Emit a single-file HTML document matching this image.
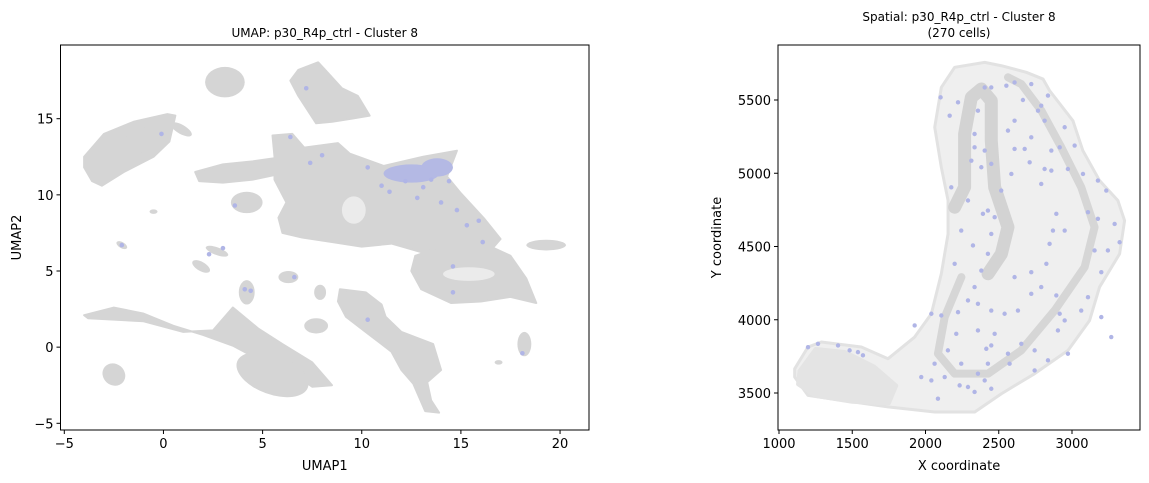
<!DOCTYPE html>
<html><head><meta charset="utf-8"><style>
body{margin:0;background:#fff;}
svg{display:block;font-family:"DejaVu Sans","Liberation Sans",sans-serif;}
</style></head><body>
<svg id="fig" width="1149" height="483" viewBox="0 0 1149 483" xmlns="http://www.w3.org/2000/svg">
<g id="umap"></g>
<g id="spatial"></g>
</svg>
<script>
// ---- UMAP data ----
const umapPolys = [
 [[5.5,13.9],[6.5,14.0],[7.1,13.1],[8.8,13.4],[9.4,12.7],[11.1,11.9],[13.1,12.5],[14.8,12.9],[14.3,11.2],[15.0,10.1],[16.2,8.4],[17.0,7.1],[16.4,6.2],[15.0,6.4],[13.1,6.2],[11.5,6.8],[10.0,6.6],[8.5,6.9],[7.0,7.2],[6.0,7.5],[5.8,8.5],[6.2,9.5],[5.6,11],[5.6,12.5]],
 [[12.7,6.0],[14.5,6.8],[16.5,6.6],[17.5,6.0],[18.3,4.5],[18.8,2.9],[17.5,3.3],[16.0,3.0],[14.5,2.9],[13.0,3.8],[12.5,5.0]],
 [[-4,12.5],[-3,14.0],[-1.5,14.8],[0.2,15.3],[0.6,15.2],[0.3,13.5],[-0.5,12.5],[-2.0,11.5],[-3.1,10.6],[-3.6,10.9],[-4.0,11.8]],
 [[6.8,18.2],[7.8,18.7],[8.3,18.0],[9.0,17.0],[9.8,16.5],[10.4,15.2],[9.5,15.0],[8.5,14.8],[7.7,14.7],[7.3,15.5],[6.8,16.5],[6.4,17.5]],
 [[-4,2.1],[-2.5,2.6],[-1,2.2],[0.5,1.4],[2,0.8],[3.5,0.1],[4.5,-0.6],[6,-1.2],[7.5,-2.6],[8.5,-2.5],[7.5,-1.0],[6.0,0.2],[4.8,1.2],[3.5,2.6],[2.5,1.1],[1,1.0],[-1,1.7],[-3.8,1.9]],
 [[8.9,3.8],[10.2,3.6],[11.0,2.8],[11.2,2.0],[12.0,1.0],[13.6,0.2],[14.0,-1.5],[13.3,-2.3],[13.5,-3.5],[13.9,-4.3],[13.2,-4.2],[12.6,-2.4],[12.0,-1.5],[11.5,-0.3],[10.2,1.0],[9.2,2.0],[8.8,3.0]],
 [[1.6,11.5],[3.0,12.0],[4.5,12.2],[5.6,12.4],[5.6,11.3],[4.5,11.0],[3.0,10.8],[1.8,10.9]]
];
const umapBlobX  = [3.1,4.2,19.3,-0.5,-2.1,2.7,1.9,6.3,4.2,7.9,5.5,-2.5,7.7,18.2,16.9,-1.0,0.9];
const umapBlobY  = [17.4,9.5,6.7,8.9,6.7,6.3,5.3,4.6,3.6,3.6,-1.8,-1.8,1.4,0.2,-1.0,13.6,14.3];
const umapBlobRX = [1.0,0.8,1.0,0.2,0.3,0.6,0.5,0.5,0.4,0.3,1.9,0.6,0.6,0.35,0.2,0.9,0.6];
const umapBlobRY = [1.0,0.7,0.35,0.15,0.2,0.25,0.3,0.4,0.8,0.5,1.3,0.7,0.5,0.8,0.15,0.8,0.3];
const umapBlobRot= [0,0,0,0,30,20,30,0,0,0,20,40,0,0,0,0,30];
const umapHoleX = [15.4,9.6];
const umapHoleY = [4.8,9.0];
const umapHoleRX = [1.3,0.6];
const umapHoleRY = [0.45,0.9];
const umapHiX = [12.5,13.8];
const umapHiY = [11.4,11.8];
const umapHiRX = [1.4,0.8];
const umapHiRY = [0.6,0.6];
const umapPtX = [7.2,-0.1,6.4,8.0,7.4,10.3,3.6,-2.1,2.3,3.0,6.6,4.1,4.4,14.6,14.6,14.0,14.8,15.3,15.9,16.1,12.8,11.4,14.4,10.3,18.1,13.1,11.0,12.2,13.5];
const umapPtY = [17.0,14.0,13.8,12.6,12.1,11.8,9.3,6.7,6.1,6.5,4.6,3.8,3.7,5.3,3.6,9.5,9.0,8.0,8.3,6.9,9.8,10.2,10.9,1.8,-0.4,10.5,10.6,10.9,11.0];
const umapXTicks = [-5,0,5,10,15,20];
const umapYTicks = [-5,0,5,10,15];

// ---- Spatial data ----
const tissueX = [1107,1198,1289,1562,1744,1926,2040,2108,2154,2154,2108,2063,2108,2199,2404,2518,2688,2802,2847,3006,3074,3188,3313,3359,3325,3188,3120,2973,2745,2518,2336,2063,1744,1426,1198,1107];
const tissueY = [3665,3814,3848,3814,3734,3882,4041,4314,4586,4814,5041,5314,5586,5723,5757,5734,5689,5643,5564,5359,5155,4950,4814,4677,4450,4223,3995,3791,3632,3495,3370,3370,3405,3450,3484,3609];
const ridgeAX = [2199,2267,2267,2313,2381,2449,2449,2472,2563,2518,2427];
const ridgeAY = [4768,4905,5268,5518,5575,5495,5223,4905,4632,4450,4314];
const ridgeBX = [2245,2131,2085,2199,2427,2654,2882,3086,3154,3063,2927,2791,2654,2563];
const ridgeBY = [4291,4018,3768,3632,3632,3791,4064,4359,4632,4905,5177,5427,5609,5655];
const tailX = [1140,1250,1450,1650,1800,1750,1500,1250,1130];
const tailY = [3650,3800,3780,3680,3550,3430,3440,3480,3560];
const spZ = [[718,290],[745,345],[770,305],[830,330],[820,400],[850,260],[870,260],[915,255],[940,245],[990,250],[965,298],[1010,330],[1020,315],[1040,285],[1030,360],[1090,380],[1120,435],[1075,440],[940,360],[940,445],[970,445],[985,485],[1030,505],[1050,510],[1100,505],[1145,520],[1020,550],[1190,540],[1215,570],[1160,635],[1190,655],[1240,670],[1255,725],[1220,750],[1180,750],[1065,640],[1090,690],[1055,690],[1035,790],[1045,730],[1020,860],[1065,885],[1075,940],[1090,960],[1140,930],[1160,890],[1200,815],[990,815],[990,880],[940,830],[950,930],[960,1030],[925,1090],[920,1060],[870,1035],[860,1090],[830,1120],[780,1090],[740,1050],[700,1090],[690,1140],[660,1130],[730,1130],[775,1155],[800,1160],[850,1140],[870,1165],[820,1175],[710,1195],[640,975],[690,940],[720,945],[765,1000],[800,900],[830,910],[870,930],[910,940],[770,935],[880,1000],[855,1045],[830,990],[820,860],[760,790],[845,640],[880,650],[870,700],[815,735],[860,760],[840,810],[780,690],[750,560],[810,480],[820,440],[850,450],[840,500],[870,490],[800,600],[860,630],[900,570],[930,520],[920,390],[990,410],[1050,450],[1200,950],[1230,1010],[1100,1060],[1040,1080],[1000,1110],[1000,1050],[1070,990],[320,1040],[350,1030],[410,1035],[445,1050],[470,1055],[485,1065]];
const spPtX = spZ.map(p=>Math.round(1000+(p[0]-233)*2.275));
const spPtY = spZ.map(p=>Math.round(5500-(p[1]-298)*2.273));
const spXTicks = [1000,1500,2000,2500,3000];
const spYTicks = [3500,4000,4500,5000,5500];

const NS="http://www.w3.org/2000/svg";
function mk(tag,attrs,parent,text){const e=document.createElementNS(NS,tag);for(const k in attrs)e.setAttribute(k,attrs[k]);if(text!==undefined)e.textContent=text;parent.appendChild(e);return e;}

// ---- UMAP panel ----
const U=document.getElementById('umap');
const uL=60.5,uR=589,uT=45,uB=430;
const ux=v=>64.3+(v+5)*19.83, uy=v=>118.7-(v-15)*15.23;
umapPolys.forEach(poly=>{
  const e=mk('polygon',{points:poly.map(p=>ux(p[0])+','+uy(p[1])).join(' '),fill:'#d5d5d5',stroke:'#d5d5d5','stroke-width':2,'stroke-linejoin':'round'},U);
  
  
});
for(let i=0;i<umapBlobX.length;i++){
  const cx=ux(umapBlobX[i]),cy=uy(umapBlobY[i]);
  const e=mk('ellipse',{cx:cx,cy:cy,rx:umapBlobRX[i]*19.83,ry:umapBlobRY[i]*15.23,fill:'#d5d5d5',transform:`rotate(${umapBlobRot[i]} ${cx} ${cy})`},U);
  
  
}
for(let i=0;i<umapHoleX.length;i++){
  const e=mk('ellipse',{cx:ux(umapHoleX[i]),cy:uy(umapHoleY[i]),rx:umapHoleRX[i]*19.83,ry:umapHoleRY[i]*15.23,fill:'#ebebeb'},U);
  
  
}
for(let i=0;i<umapHiX.length;i++){
  const e=mk('ellipse',{cx:ux(umapHiX[i]),cy:uy(umapHiY[i]),rx:umapHiRX[i]*19.83,ry:umapHiRY[i]*15.23,fill:'#b4b9e4'},U);
  
  
}
for(let i=0;i<umapPtX.length;i++){
  const e=mk('circle',{cx:ux(umapPtX[i]),cy:uy(umapPtY[i]),r:2.3,fill:'#b0b5e6'},U);
  
  
}
mk('rect',{x:uL,y:uT,width:uR-uL,height:uB-uT,fill:'none',stroke:'#000','stroke-width':1},U);
umapXTicks.forEach(t=>{const x=ux(t);mk('line',{x1:x,x2:x,y1:uB,y2:uB+4,stroke:'#000'},U);
  const e=mk('text',{x:x,y:uB+18,'font-size':13,'text-anchor':'middle'},U,t<0?'\u2212'+(-t):t);
  });
umapYTicks.forEach(t=>{const y=uy(t);mk('line',{x1:uL,x2:uL-4,y1:y,y2:y,stroke:'#000'},U);
  const e=mk('text',{x:uL-7,y:y+5,'font-size':13,'text-anchor':'end'},U,t<0?'\u2212'+(-t):t);
  });
let t1=mk('text',{x:(uL+uR)/2,y:37,'font-size':12,'text-anchor':'middle'},U,'UMAP: p30_R4p_ctrl - Cluster 8');

let t2=mk('text',{x:(uL+uR)/2,y:470,'font-size':13,'text-anchor':'middle'},U,'UMAP1');

let t3=mk('text',{x:21,y:(uT+uB)/2,'font-size':13,'text-anchor':'middle',transform:`rotate(-90 21 ${(uT+uB)/2})`},U,'UMAP2');


// ---- Spatial panel ----
const S=document.getElementById('spatial');
const sL=778,sR=1140,sT=45,sB=430;
const sx=v=>779+(v-1000)*0.1465, sy=v=>100-(v-5500)*0.1465;
const pts=(X,Y)=>X.map((v,i)=>sx(v)+','+sy(Y[i])).join(' ');
let tis=mk('polygon',{points:pts(tissueX,tissueY),fill:'#efefef',stroke:'#e2e2e2','stroke-width':3,'stroke-linejoin':'round'},S);

let tl=mk('polygon',{points:pts(tailX,tailY),fill:'#e4e4e4',stroke:'#e4e4e4','stroke-width':4,'stroke-linejoin':'round'},S);

let ra=mk('polyline',{points:pts(ridgeAX,ridgeAY),fill:'none',stroke:'#d3d3d3','stroke-width':13,'stroke-linejoin':'round','stroke-linecap':'round'},S);

let rb=mk('polyline',{points:pts(ridgeBX,ridgeBY),fill:'none',stroke:'#d6d6d6','stroke-width':8,'stroke-linejoin':'round','stroke-linecap':'round'},S);

for(let i=0;i<spPtX.length;i++){
  const e=mk('circle',{cx:sx(spPtX[i]),cy:sy(spPtY[i]),r:2.2,fill:'#b0b5e6'},S);
  
  
}
mk('rect',{x:sL,y:sT,width:sR-sL,height:sB-sT,fill:'none',stroke:'#000','stroke-width':1},S);
spXTicks.forEach(t=>{const x=sx(t);mk('line',{x1:x,x2:x,y1:sB,y2:sB+4,stroke:'#000'},S);
  const e=mk('text',{x:x,y:sB+18,'font-size':13,'text-anchor':'middle'},S,t);
  });
spYTicks.forEach(t=>{const y=sy(t);mk('line',{x1:sL,x2:sL-4,y1:y,y2:y,stroke:'#000'},S);
  const e=mk('text',{x:sL-7,y:y+5,'font-size':13,'text-anchor':'end'},S,t);
  });
let s1=mk('text',{x:(sL+sR)/2,y:21,'font-size':12,'text-anchor':'middle'},S,'Spatial: p30_R4p_ctrl - Cluster 8');

let s2=mk('text',{x:(sL+sR)/2,y:37,'font-size':12,'text-anchor':'middle'},S,'(270 cells)');

let s3=mk('text',{x:(sL+sR)/2,y:470,'font-size':13,'text-anchor':'middle'},S,'X coordinate');

let s4=mk('text',{x:721,y:(sT+sB)/2,'font-size':13,'text-anchor':'middle',transform:`rotate(-90 721 ${(sT+sB)/2})`},S,'Y coordinate');

</script>
</body></html>
